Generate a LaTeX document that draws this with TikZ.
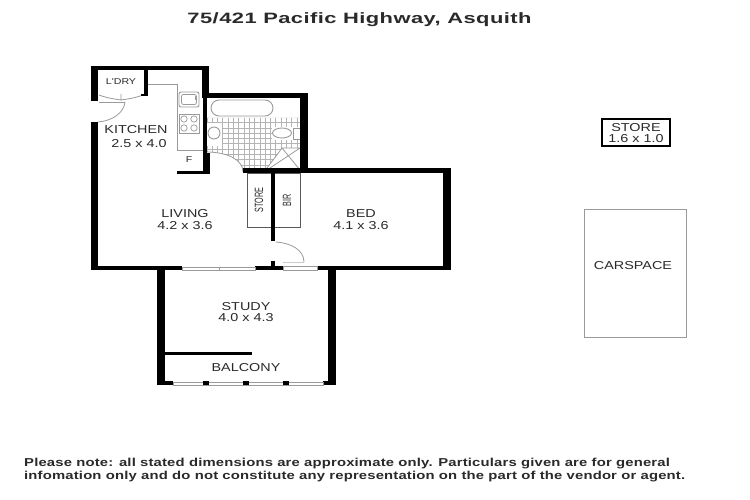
\documentclass[tikz,border=0pt]{standalone}
\usepackage{fontspec}
\setmainfont{Liberation Sans}
\newfontfamily\plainf[FakeStretch=1.25]{Liberation Sans}
\newfontfamily\narrowf[FakeStretch=0.6]{Liberation Sans}
\newfontfamily\boldf[FakeStretch=1.46,LetterSpace=3]{Liberation Sans}
\newfontfamily\notef[FakeStretch=1.29,LetterSpace=1.5]{Liberation Sans}
\definecolor{ink}{HTML}{2A2A2A}
\definecolor{fine}{HTML}{9A9A9A}
\definecolor{tile}{HTML}{B4B4B4}
\tikzset{
  wall/.style={fill=black,draw=none},
  pane/.style={fill=white,draw=fine,line width=0.7pt},
  fixture/.style={draw=fine,line width=0.9pt,fill=white},
  fineline/.style={draw=fine,line width=0.8pt},
  room/.style={font=\plainf\fontsize{11.5}{12}\selectfont,text=ink,inner sep=0pt,anchor=center},
  small/.style={font=\plainf\fontsize{8.5}{9}\selectfont,text=ink,inner sep=0pt,anchor=center},
  upright/.style={font=\narrowf\fontsize{12}{12}\selectfont,text=ink,inner sep=0pt,anchor=center,rotate=90},
  notetext/.style={font=\notef\bfseries\fontsize{11.5}{12}\selectfont,text=ink,inner sep=0pt,anchor=west},
}
\begin{document}
\begin{tikzpicture}[x=1pt,y=-1pt]
\useasboundingbox (0,0) rectangle (750,500);
\fill[white] (0,0) rectangle (750,500);

% bathroom tiling
\begin{scope}
  \clip (206,118) -- (300,118) -- (300,148) -- (282,148) -- (264,172) -- (243,172)
    .. controls (243,160) and (228,152) .. (206,152) -- cycle;
  \foreach \gx in {0,...,20} \draw[tile,line width=0.6pt] ({201.5+5.3*\gx},110) -- ({201.5+5.3*\gx},175);
  \foreach \gy in {0,...,12} \draw[tile,line width=0.6pt] (200,{112+5.3*\gy}) -- (305,{112+5.3*\gy});
\end{scope}
\fill[white] (207,123) rectangle (222,146);
\fill[white] (272,127) rectangle (300,140);

% bath, basin, toilet, shower
\draw[fixture,rounded corners=8pt] (211,100) rectangle (273,116);
\draw[fixture] (214,133) circle[radius=6];
\draw[fixture] (282,133) ellipse[x radius=9.5,y radius=5];
\draw[fixture] (293,128) rectangle (300,139);
\draw[fineline] (264,172) -- (282,148) -- (300,148) (282,148) -- (300,170) (264,172) -- (300,148);
\draw[fineline] (206,152) .. controls (228,152) and (243,160) .. (243,172);

% kitchen fittings
\draw[fineline] (148,84) -- (177,84) -- (177,150) -- (203,150);
\draw[fixture,rounded corners=2pt] (179,92) rectangle (199,107);
\draw[fineline,rounded corners=2pt] (181.5,94.5) rectangle (196.5,104.5);
\draw[fineline] (195,96) -- (195,100);
\draw[fixture] (179,114) rectangle (199,133);
\foreach \cx/\cy in {184/119,194/119,184/128,194/128}
  \draw[fineline,line width=0.7pt] (\cx,\cy) circle[radius=3.2];

% laundry doors and entry door
\draw[fineline] (99,95) .. controls (107,98) and (114,99) .. (121,100)
                (143,95) .. controls (135,98) and (128,99) .. (121,100)
                (121,94) -- (121,100);
\draw[fineline] (99,102) -- (125,102);
\draw[fineline] (98,122) .. controls (112,121) and (124,113) .. (125,102);

% bedroom door
\draw[fineline] (276,242) .. controls (291,243) and (304,250) .. (304,262);
\draw[fineline,draw=fine!50] (283,262) -- (304,262);

% store and robe
\draw[fineline,draw=black!65] (247,173) rectangle (300,227);

% walls
\fill[wall] (91,66) rectangle (209,70);
\fill[wall] (91,66) rectangle (98,101);
\fill[wall] (144,66) rectangle (148,96);
\fill[wall] (141,94) rectangle (148,96.5);
\fill[wall] (91,122) rectangle (98,270);
\fill[wall] (202,66) rectangle (209,98);
\fill[wall] (202,93) rectangle (308,98);
\fill[wall] (203,98) rectangle (207,173);
\fill[wall] (206,153) rectangle (210,173);
\fill[wall] (177,171) rectangle (210,174);
\fill[wall] (300,93) rectangle (308,173);
\fill[wall] (243,168.5) rectangle (451,173);
\fill[wall] (443,168.5) rectangle (451,270);
\fill[wall] (271,173) rectangle (275,241);
\fill[wall] (271,261) rectangle (275,266);
\fill[wall] (91,266) rectangle (182,270);
\fill[wall] (255,266) rectangle (283,270);
\fill[wall] (317,266) rectangle (451,270);
\fill[wall] (157,270) rectangle (165,385);
\fill[wall] (328,270) rectangle (336,385);
\fill[wall] (165,352) rectangle (252,355);
\fill[wall] (157,381) rectangle (173,385);
\fill[wall] (323,381) rectangle (336,385);

% sliding glass
\draw[pane] (182,267) rectangle (219,270);
\draw[pane] (219,267) rectangle (255,270);
\draw[pane] (283,266.5) rectangle (317,270);
\draw[pane] (173,382) rectangle (323,385);
\fill[wall] (203,381) rectangle (209,385);
\fill[wall] (243,381) rectangle (249,385);
\fill[wall] (283,381) rectangle (289,385);

% outside boxes
\draw[black,line width=2pt] (602,119) rectangle (670,146);
\draw[fine,line width=1pt,fill=white] (584,209) rectangle (686,337);

% texts
\node[font=\boldf\bfseries\fontsize{15}{16}\selectfont,text=ink,inner sep=0pt] (title) at (359.5,19.5) {75/421 Pacific Highway, Asquith};
\node[small] (ldry) at (121,82) {L'DRY};
\node[room] (kitchen) at (136,130) {KITCHEN};
\node[room] (kitchendim) at (139,144) {2.5 x 4.0};
\node[small] (fridge) at (189,160) {F};
\node[room] (living) at (185,214) {LIVING};
\node[room] (livingdim) at (185,226) {4.2 x 3.6};
\node[room] (bed) at (361,214) {BED};
\node[room] (beddim) at (361,226) {4.1 x 3.6};
\node[room] (study) at (246,307) {STUDY};
\node[room] (studydim) at (246,318) {4.0 x 4.3};
\node[room] (balcony) at (246,368) {BALCONY};
\node[upright] (store) at (259,200) {STORE};
\node[upright] (bir) at (287,200) {BIR};
\node[room] (outstore) at (636,128) {STORE};
\node[room] (outstoredim) at (636,139) {1.6 x 1.0};
\node[room] (carspace) at (633,266) {CARSPACE};
\node[notetext] (note1) at (24,463.5) {Please note: all stated dimensions are approximate only. Particulars given are for general};
\node[notetext] (note2) at (24,476.5) {infomation only and do not constitute any representation on the part of the vendor or agent.};
\end{tikzpicture}
\end{document}
